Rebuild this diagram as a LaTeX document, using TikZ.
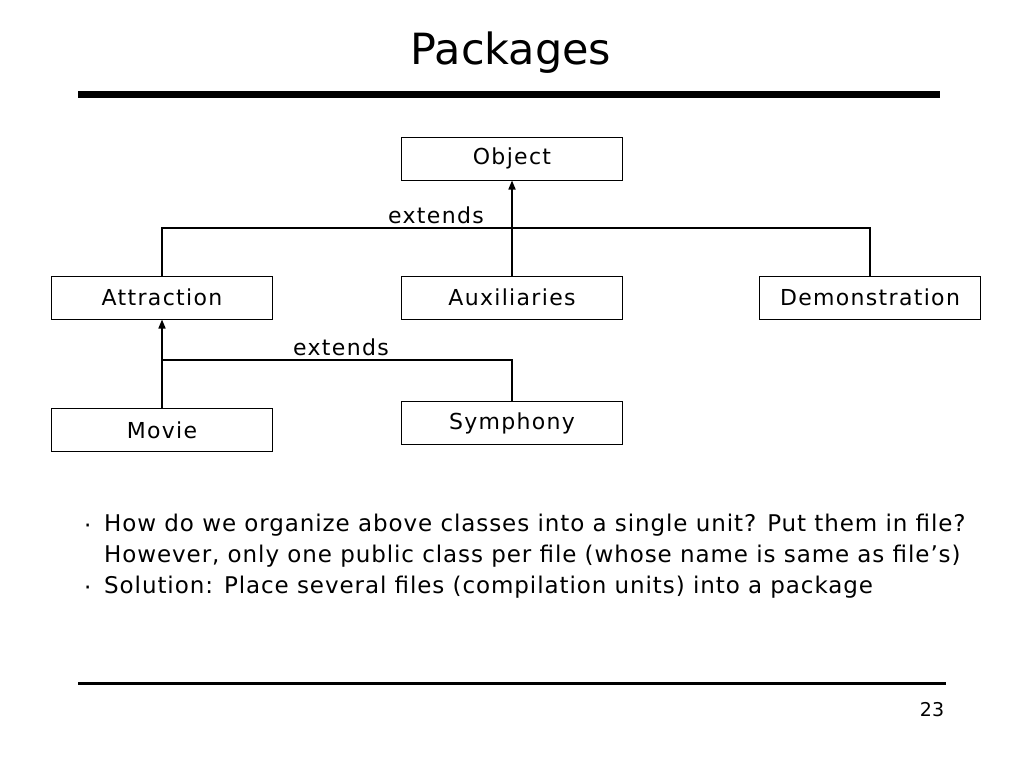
\documentclass[tikz,border=0pt]{standalone}
\usepackage{fontspec}
\setmainfont{DejaVu Sans}
\newfontfamily\boxfont[LetterSpace=6]{DejaVu Sans}
\newfontfamily\bodyfont[LetterSpace=4]{DejaVu Sans}
\usetikzlibrary{arrows.meta}
\begin{document}
\begin{tikzpicture}[x=1pt,y=-1pt,
  cls/.style={draw=black,line width=1pt,minimum width=221pt,minimum height=43pt,inner sep=0pt,font=\boxfont\fontsize{22}{24}\selectfont},
  conn/.style={line width=1.6pt},
  arr/.style={conn,-{Triangle[length=9pt,width=7pt]}},
  lbl/.style={font=\boxfont\fontsize{22}{24}\selectfont,inner sep=0pt},
  body/.style={font=\bodyfont\fontsize{23}{31}\selectfont,inner sep=0pt,anchor=west}]
\useasboundingbox (0,0) rectangle (1024,768);
\node[font=\fontsize{43}{50}\selectfont,inner sep=0pt] (title) at (511,53) {Packages};
\draw[line width=7pt] (78,94) -- (940,94);
\node[cls] (object) at (512,158.5) {Object};
\node[cls] (attraction) at (162,297.5) {Attraction};
\node[cls] (aux) at (512,297.5) {Auxiliaries};
\node[cls] (demo) at (870,297.5) {Demonstration};
\node[cls] (movie) at (162,430) {Movie};
\node[cls] (sym) at (512,423) {Symphony};
\coordinate (j1) at (162,228);
\coordinate (j2) at (162,360);
\draw[conn] (attraction.north) -- (j1) -| (demo.north);
\draw[arr] (aux.north) -- (object.south);
\draw[arr] (movie.north) -- (attraction.south);
\draw[conn] (j2) -| (sym.north);
\node[lbl] (ext1) at (436,215) {extends};
\node[lbl] (ext2) at (341,347) {extends};
\node[body] (b1) at (84,529) {·};
\node[body] (t1) at (104,525) {How do we organize above classes into a single unit? Put them in file?};
\node[body] (t2) at (104,556) {However, only one public class per file (whose name is same as file’s)};
\node[body] (b2) at (84,591) {·};
\node[body] (t3) at (104,587) {Solution: Place several files (compilation units) into a package};
\draw[line width=3pt] (78,683) -- (946,683);
\node[lbl,font=\fontsize{19}{24}\selectfont] (pg) at (932,710) {23};
\end{tikzpicture}
\end{document}
